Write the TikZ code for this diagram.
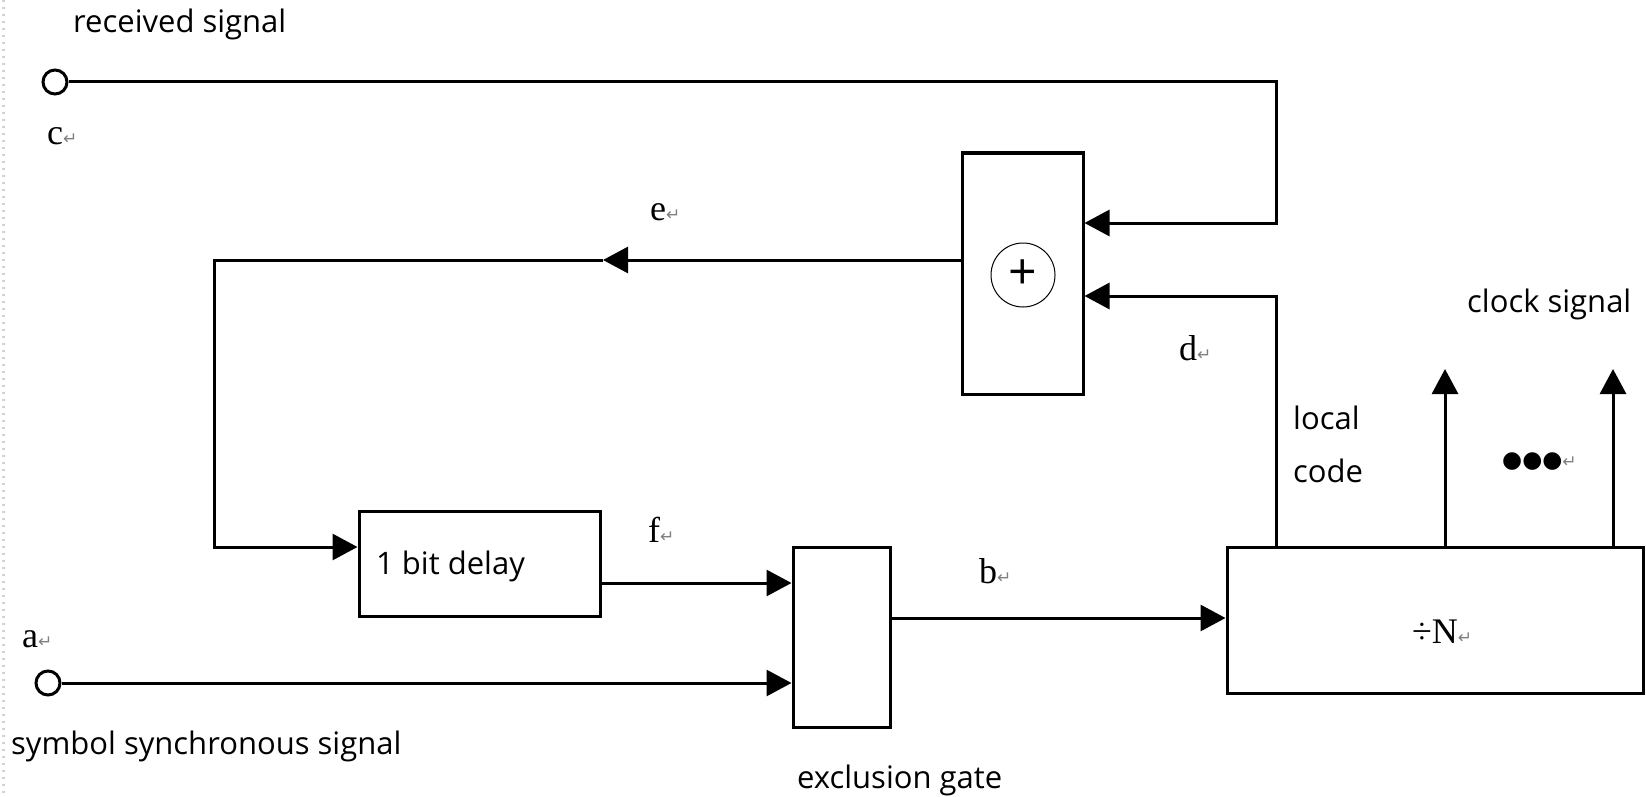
\documentclass[tikz,border=0pt]{standalone}
\usepackage{fontspec}
\setmainfont{Open Sans}
\newfontfamily\seriffont{Liberation Serif}
\newfontfamily\dejavu{DejaVu Sans}
\usetikzlibrary{arrows.meta}
\tikzset{
  wire/.style={line width=3pt},
  arr/.style={wire,-{Triangle[length=25pt,width=26pt]}},
  blk/.style={draw,line width=3pt,rectangle,inner sep=0pt},
  lab/.style={font=\fontsize{31}{31}\selectfont,inner sep=0pt,anchor=base west},
  sig/.style={font=\seriffont\fontsize{36}{36}\selectfont,inner sep=0pt,anchor=base west},
  term/.style={draw,circle,line width=3pt,minimum size=24pt,inner sep=0pt,fill=white},
}
\newcommand\retmark{{\dejavu\fontsize{17}{17}\selectfont\textcolor{gray}{↵}}}
\begin{document}
\begin{tikzpicture}[x=1pt,y=-1pt]
\useasboundingbox (0,0) rectangle (1646,797);
\fill[white] (0,0) rectangle (1646,797);
\draw[gray!35,line width=3pt,dash pattern=on 2pt off 5pt] (3,0) -- (3,797);

% blocks
\node[blk,minimum width=121pt,minimum height=241pt] (add) at (1022.5,273.5) {};
\node[draw,circle,line width=1pt,minimum size=64pt,inner sep=0pt,font=\fontsize{50}{50}\selectfont] (xor) at (1023,275) {+};
\node[blk,minimum width=241pt,minimum height=105pt] (dly) at (479.5,563.5) {};
\node[lab] (dlytxt) at (376,574) {1 bit delay};
\node[blk,minimum width=97pt,minimum height=180pt] (gate) at (841.5,637) {};
\node[blk,minimum width=416pt,minimum height=146pt] (divn) at (1435,620) {};
\node[sig] (divtxt) at (1412,643) {÷N\retmark};

% terminals
\node[term] (c) at (55,82) {};
\node[term] (a) at (48,683) {};

% coordinates
\coordinate (tr) at (1276,82);
\coordinate (tr2) at (1276,223);
\coordinate (lc) at (1276,296);
\coordinate (emid) at (603,260);
\coordinate (ecorner) at (214,260);
\coordinate (ecorner2) at (214,547);
\coordinate (fy) at (700,583);
\coordinate (by) at (1000,618);
\coordinate (k1) at (1445,369);
\coordinate (k2) at (1613,369);

% connectors
\draw[arr] (c.east) -- (tr) -- (tr2) -- (tr2 -| add.east);
\draw[arr] (divn.north -| lc) -- (lc) -- (lc -| add.east);
\draw[arr] (add.west |- emid) -- (emid);
\draw[arr] (emid) -- (ecorner) -- (ecorner2) -- (ecorner2 -| dly.west);
\draw[arr] (dly.east |- fy) -- (gate.west |- fy);
\draw[arr] (a.east) -- (a.east -| gate.west);
\draw[arr] (gate.east |- by) -- (divn.west |- by);
\draw[arr] (divn.north -| k1) -- (k1);
\draw[arr] (divn.north -| k2) -- (k2);

% labels
\node[lab] (rs) at (73,33) {received signal};
\node[sig] (lc-c) at (47,145) {c\retmark};
\node[sig] (lc-e) at (650,220) {e\retmark};
\node[sig] (lc-d) at (1179,360) {d\retmark};
\node[sig] (lc-f) at (648,542) {f\retmark};
\node[sig] (lc-b) at (979,583) {b\retmark};
\node[sig] (lc-a) at (22,647) {a\retmark};
\node[lab] (ss) at (11,754) {symbol synchronous signal};
\node[lab] (eg) at (797,788) {exclusion gate};
\node[lab] (cs) at (1467,312) {clock signal};
\node[lab] (loc1) at (1293,429) {local};
\node[lab] (loc2) at (1293,482) {code};
\node[inner sep=0pt,anchor=base west] (dots) at (1502,467) {{\dejavu\fontsize{23}{23}\selectfont ●●●}\retmark};
\end{tikzpicture}
\end{document}
